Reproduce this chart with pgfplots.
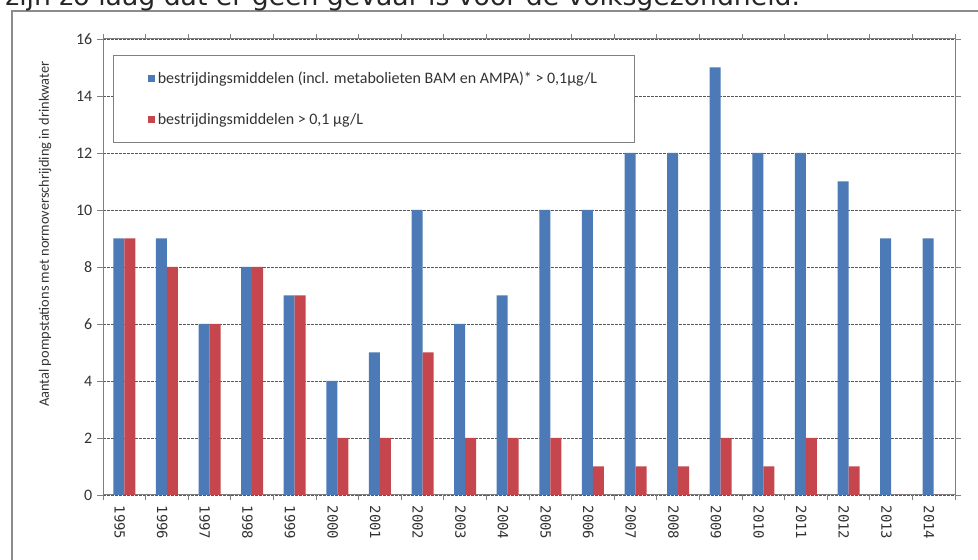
\documentclass[border=0pt]{standalone}
\usepackage{fontspec}
\setmainfont{Carlito}
\newfontfamily\monofont{DejaVu Sans Mono}
\newfontfamily\dejavu{DejaVu Sans}
\usepackage{pgfplots}
\pgfplotsset{compat=1.18}
\definecolor{barblue}{HTML}{4C7AB6}
\definecolor{barred}{HTML}{C6464E}
\begin{document}
\begin{tikzpicture}
\useasboundingbox (0pt,0pt) rectangle (733.5pt,420pt);
\draw[black!45, line width=1pt] (9pt,-5pt) -- (9pt,411.75pt) -- (745pt,411.75pt);
\node[anchor=base west, inner sep=0pt, text=black!85] at (3.75pt,415.5pt) {\resizebox{596pt}{!}{\dejavu zijn zo laag dat er geen gevaar is voor de volksgezondheid.}};
\begin{axis}[
  at={(77.25pt,48.75pt)}, anchor=south west,
  scale only axis, width=639pt, height=342pt,
  xmin=-0.5, xmax=19.5, ymin=0, ymax=16,
  ybar=0pt, bar width=8.25pt,
  ytick={0,2,...,16},
  xtick={0,...,19},
  xticklabels={1995,1996,1997,1998,1999,2000,2001,2002,2003,2004,2005,2006,2007,2008,2009,2010,2011,2012,2013,2014},
  minor xtick={-0.5,0.5,...,19.5},
  tick align=outside,
  major tick length=4.5pt, minor tick length=3.75pt,
  major x tick style={draw=none},
  minor x tick style={draw=black!50, line width=0.7pt},
  ytick style={draw=black!50, line width=0.7pt},
  axis line style={black!50, line width=0.75pt},
  ymajorgrids,
  grid style={black!65, dash pattern=on 2pt off 1pt, line width=0.6pt},
  /pgf/number format/assume math mode=true,
  yticklabel style={font=\fontsize{12}{14}\selectfont, text=black!80},
  xticklabel style={rotate=-90, anchor=west, yshift=-3.5pt, font=\monofont\fontsize{10.5}{12}\selectfont, text=black!80},
  ylabel={Aantal pompstations met normoverschrijding in drinkwater},
  ylabel style={at={(axis description cs:-0.068,0.572)}, anchor=center, font=\fontsize{10.8}{12}\selectfont, text=black!80},
  legend cell align=left,
  legend style={at={(axis description cs:0.0117,0.965)}, anchor=north west, draw=black!50, line width=0.75pt, fill=white,
    inner xsep=26pt, inner ysep=10pt, row sep=17pt, font=\fontsize{12}{14}\selectfont, text=black!80},
  legend image code/.code={\fill[#1] (0pt,-2.6pt) rectangle (5.25pt,2.6pt);},
]
\addplot[fill=barblue, draw=none, bar shift=-4.125pt] coordinates {
(0,9) (1,9) (2,6) (3,8) (4,7) (5,4) (6,5) (7,10) (8,6) (9,7)
(10,10) (11,10) (12,12) (13,12) (14,15) (15,12) (16,12) (17,11) (18,9) (19,9)};
\addlegendentry{bestrijdingsmiddelen (incl. metabolieten BAM en AMPA)* > 0,1µg/L}
\addplot[fill=barred, draw=none, bar shift=4.125pt] coordinates {
(0,9) (1,8) (2,6) (3,8) (4,7) (5,2) (6,2) (7,5) (8,2) (9,2)
(10,2) (11,1) (12,1) (13,1) (14,2) (15,1) (16,2) (17,1) (18,0) (19,0)};
\addlegendentry{bestrijdingsmiddelen > 0,1 µg/L}
\end{axis}
\end{tikzpicture}
\end{document}
